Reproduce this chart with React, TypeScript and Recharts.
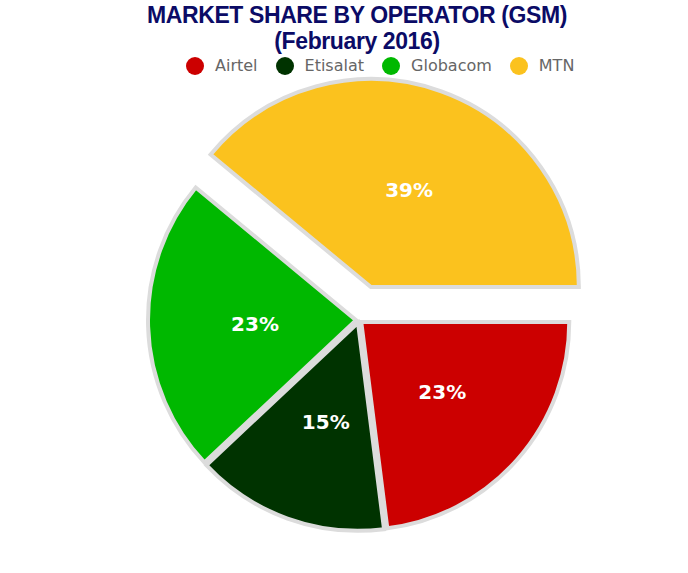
import { PieChart, Pie, Cell, Sector } from "recharts"

const operators = ["Airtel", "Etisalat", "Globacom", "MTN"]
const shares = [23, 15, 23, 39]
const colors = ["#cc0000", "#003300", "#00b800", "#fbc21e"]
const explode = [3, 3, 3, 35]

const data = operators.map((name, i) => ({ name, value: shares[i], color: colors[i], offset: explode[i] }))

const RAD = Math.PI / 180

function shift(props: any) {
  const off = props.payload?.offset ?? 0
  return {
    dx: off * Math.cos(-props.midAngle * RAD),
    dy: off * Math.sin(-props.midAngle * RAD),
  }
}

function SliceShape(props: any) {
  const { dx, dy } = shift(props)
  return <Sector {...props} cx={props.cx + dx} cy={props.cy + dy} />
}

function renderLabel(props: any) {
  const { dx, dy } = shift(props)
  const r = props.outerRadius * 0.5
  const x = props.cx + dx + r * Math.cos(-props.midAngle * RAD) + 3
  const y = props.cy + dy + r * Math.sin(-props.midAngle * RAD) + 1
  return (
    <text
      x={x}
      y={y}
      fill="#ffffff"
      textAnchor="middle"
      dominantBaseline="central"
      style={{ fontFamily: "DejaVu Sans", fontWeight: "bold", fontSize: 20 }}
    >
      {`${props.value}%`}
    </text>
  )
}

export default function App() {
  return (
    <div style={{ position: "absolute", left: 0, top: 0, width: 688, height: 573, background: "#fff" }}>
      <div
        style={{
          position: "absolute",
          left: 0,
          top: 2,
          width: 714,
          textAlign: "center",
          fontFamily: "Liberation Sans",
          fontWeight: "bold",
          fontSize: 23,
          lineHeight: "26px",
          color: "#0b0b66",
          letterSpacing: -0.4,
        }}
      >
        <div>MARKET SHARE BY OPERATOR (GSM)</div>
        <div>(February 2016)</div>
      </div>
      <div
        style={{
          position: "absolute",
          left: 186,
          top: 56,
          display: "flex",
          alignItems: "center",
          fontFamily: "DejaVu Sans",
          fontSize: 16,
          color: "#666666",
        }}
      >
        {data.map((d) => (
          <div key={d.name} style={{ display: "flex", alignItems: "center", marginRight: 18 }}>
            <div style={{ width: 18, height: 18, borderRadius: "50%", background: d.color, marginRight: 11 }} />
            <span>{d.name}</span>
          </div>
        ))}
      </div>
      <PieChart width={688} height={573} style={{ position: "absolute", left: 0, top: 0 }}>
        <Pie
          data={data}
          dataKey="value"
          nameKey="name"
          cx={354}
          cy={315}
          outerRadius={208}
          startAngle={0}
          endAngle={-360}
          stroke="#dcdcdc"
          strokeWidth={4}
          shape={SliceShape}
          label={renderLabel}
          labelLine={false}
          isAnimationActive={false}
        >
          {data.map((d) => (
            <Cell key={d.name} fill={d.color} />
          ))}
        </Pie>
      </PieChart>
    </div>
  )
}
